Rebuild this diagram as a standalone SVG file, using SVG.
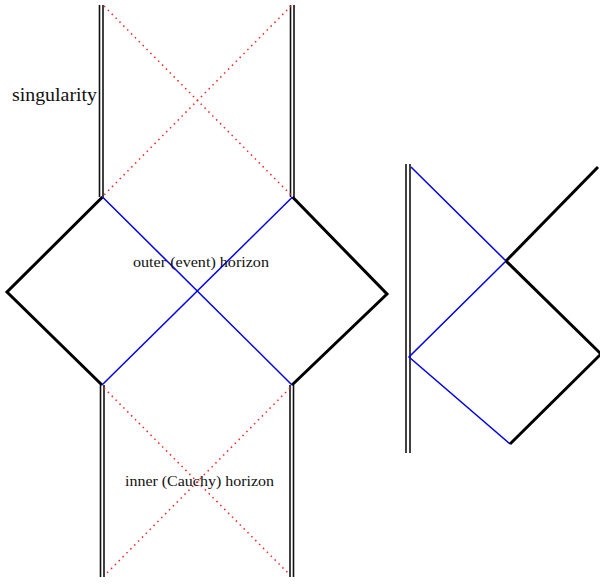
<svg xmlns="http://www.w3.org/2000/svg" width="600" height="584" viewBox="0 0 600 584">
<style>
.sing{stroke:#111;stroke-width:1.6;fill:none}
.bnd{stroke:#000;stroke-width:3;fill:none;stroke-linejoin:miter}
.hor{stroke:#0000ee;stroke-width:1.5;fill:none}
.inner{stroke:#ff2020;stroke-width:1.5;stroke-dasharray:1.5 4;fill:none}
.lbl{fill:#111}
</style>
<rect width="600" height="584" fill="#fff"/>
<g id="singularities">
<line class="sing" x1="99.5" y1="5" x2="99.5" y2="197"/>
<line class="sing" x1="103" y1="5" x2="103" y2="197"/>
<line class="sing" x1="290.5" y1="5" x2="290.5" y2="197"/>
<line class="sing" x1="294" y1="5" x2="294" y2="197"/>
<line class="sing" x1="100.5" y1="385" x2="100.5" y2="577"/>
<line class="sing" x1="104" y1="385" x2="104" y2="577"/>
<line class="sing" x1="290" y1="385" x2="290" y2="577"/>
<line class="sing" x1="293.5" y1="385" x2="293.5" y2="577"/>
<line class="sing" x1="406" y1="164" x2="406" y2="453"/>
<line class="sing" x1="410" y1="164" x2="410" y2="453"/>
</g>
<g id="connectors">
<polyline class="bnd" points="102.5,197 7,292 102,385"/>
<polyline class="bnd" points="292.5,197 387,294 292,385"/>
<line class="hor" x1="102.5" y1="197" x2="292" y2="385"/>
<line class="hor" x1="292.5" y1="197" x2="102" y2="385"/>
<line class="inner" x1="104" y1="6" x2="292" y2="196"/>
<line class="inner" x1="291" y1="6" x2="103" y2="196"/>
<line class="inner" x1="104" y1="388" x2="290" y2="575"/>
<line class="inner" x1="290" y1="388" x2="105" y2="575"/>
<polyline class="hor" points="411,167 506,261 409,357 510,444"/>
<line class="bnd" x1="506" y1="261" x2="598" y2="167"/>
<polyline class="bnd" points="506,261 601,354 510,444"/>
</g>
<g id="labels" font-family="'Liberation Serif', 'DejaVu Serif', serif">
<text class="lbl" x="12" y="101" font-size="19" textLength="85" lengthAdjust="spacingAndGlyphs">singularity</text>
<text class="lbl" x="133" y="267" font-size="14" textLength="136" lengthAdjust="spacingAndGlyphs">outer (event) horizon</text>
<text class="lbl" x="125" y="486" font-size="14" textLength="149" lengthAdjust="spacingAndGlyphs">inner (Cauchy) horizon</text>
</g>
</svg>
